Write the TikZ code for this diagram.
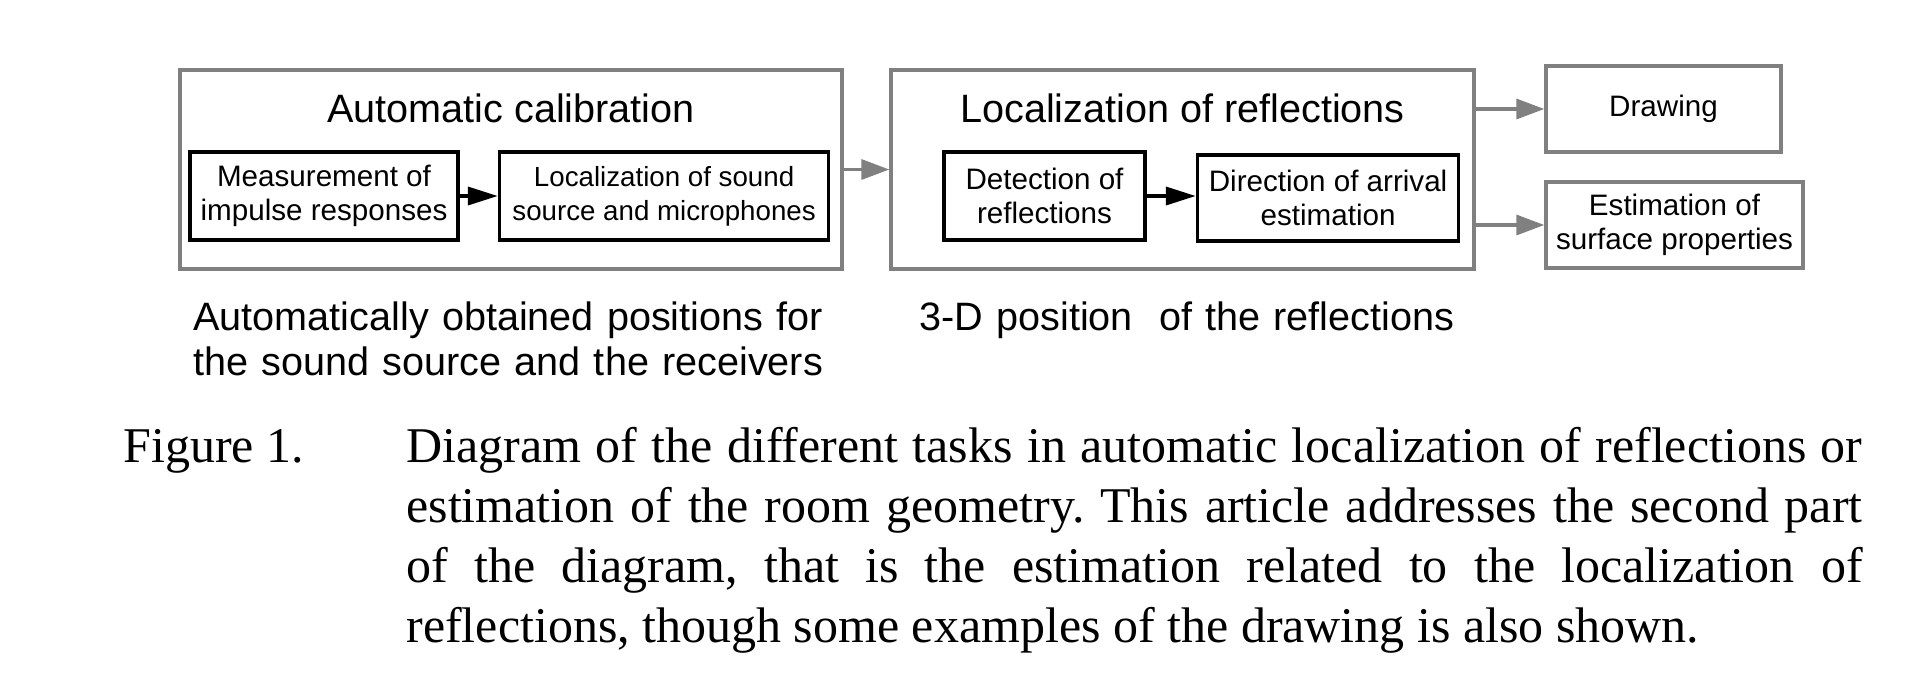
\documentclass[tikz,border=0pt]{standalone}
\usepackage{fontspec}
\setmainfont{Liberation Serif}
\setsansfont{Liberation Sans}
\usetikzlibrary{positioning,arrows.meta}

\begin{document}
\begin{tikzpicture}[
        x=0.5pt, y=-0.5pt,
        stage/.style = {rectangle, draw=gray, line width=1.7pt, inner sep=0pt, minimum height=99.5pt},
        block/.style = {rectangle, draw, line width=1.8pt, align=center, inner sep=0pt, minimum height=44pt, font=\sffamily\fontsize{14.8}{17}\selectfont},
        outblock/.style = {block, draw=gray, line width=1.7pt, minimum height=43pt},
        heading/.style = {anchor=base, inner sep=0pt, font=\sffamily\fontsize{19.8}{22.5}\selectfont},
        result/.style = {anchor=base west, inner sep=0pt, align=left, font=\sffamily\fontsize{19.8}{22.5}\selectfont},
        captext/.style = {anchor=base west, inner sep=0pt, font=\frenchspacing\fontsize{25}{30}\selectfont},
        line/.style = {draw, line width=1.8pt, -{Triangle[length=15pt,width=9pt]}}, % black arrows inside the stages
        grayline/.style = {line, draw=gray, line width=1.7pt, -{Triangle[length=14pt,width=10pt]}},
        node distance=20pt
    ]
        \useasboundingbox (0,0) rectangle (1931,681);

        % Stages
        \node [stage, minimum width=331pt] (calib) at (511,169.5) {};
        \node [stage, minimum width=291.5pt] (locref) at (1182.5,169.5) {};
        \node [heading] (calibtitle) at (511,122) {Automatic calibration};
        \node [heading] (loctitle) at (1182.5,122) {Localization of reflections};

        % Tasks inside the stages
        \node [block, minimum width=134pt] (measure) at (324,196) {Measurement of\\impulse responses};
        \node [block, minimum width=164.5pt, right=19pt of measure, font=\sffamily\fontsize{13.85}{17}\selectfont] (locsrc) {Localization of sound\\source and microphones};
        \node [block, minimum width=100.5pt] (detect) at (1044.5,196) {Detection of\\reflections};
        \node [block, minimum width=130.5pt, minimum height=43pt, right=24.5pt of detect, yshift=-1pt] (doa) {Direction of arrival\\estimation};

        % Uses of the result
        \node [outblock, minimum width=117.5pt] (drawing) at (1663.5,109) {Drawing};
        \node [outblock, minimum width=128.5pt] (estim) at (1674.5,225) {Estimation of\\surface properties};

        % What each stage gives
        \node [result, text width=330pt] (calibout) at (193,330) {Automatically obtained positions for\\the sound source and the receivers};
        \node [result, text width=300pt] (locout) at (919,330) {3-D position\ \ of the reflections};

        % Caption
        \node [captext] (figlabel) at (123,462) {Figure 1.};
        \node [captext, text width=728pt, align=justify] (caption) at (406,462) {Diagram of the different tasks in automatic localization of reflections or\linebreak estimation of the room geometry. This article addresses the second part\linebreak of the diagram, that is the estimation related to the localization of\linebreak reflections, though some examples of the drawing is also shown.};

        % Lines
        \draw [line] (measure) -- (locsrc);
        \draw [line] (detect) -- (detect -| doa.west);
        \draw [grayline] (calib) -- (locref);
        \draw [grayline] (drawing -| locref.east) -- (drawing);
        \draw [grayline] (estim -| locref.east) -- (estim);
    \end{tikzpicture}
\end{document}
